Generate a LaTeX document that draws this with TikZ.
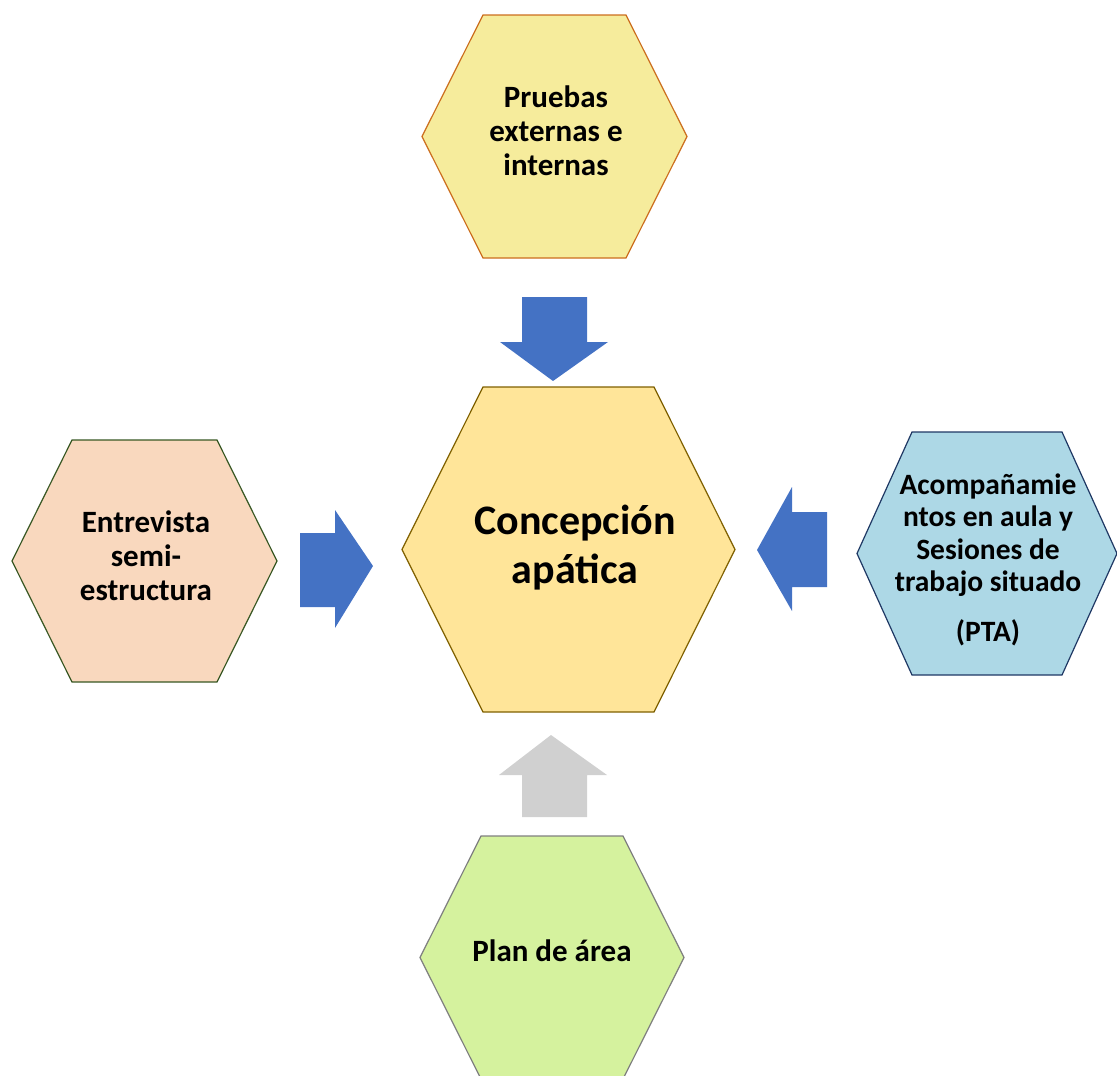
\documentclass[tikz,border=0pt]{standalone}
\usepackage{fontspec}
\setmainfont{Carlito}
\usetikzlibrary{positioning}
\definecolor{officeblue}{HTML}{4472C4}
\definecolor{arrowgray}{HTML}{D0D0D0}
\definecolor{pruebasfill}{HTML}{F6EC9C}
\definecolor{pruebasline}{HTML}{CC6E1E}
\definecolor{centrofill}{HTML}{FFE599}
\definecolor{centroline}{HTML}{7F6000}
\definecolor{entrevfill}{HTML}{F9D8BE}
\definecolor{entrevline}{HTML}{385723}
\definecolor{acompfill}{HTML}{ADD8E6}
\definecolor{acompline}{HTML}{1F3864}
\definecolor{planfill}{HTML}{D5F29E}
\definecolor{planline}{HTML}{7F7F7F}
\tikzset{
  hexlabel/.style={align=center, font=\bfseries\fontsize{31}{34}\selectfont},
  hexbig/.style={align=center, font=\bfseries\fontsize{42}{49}\selectfont},
  pruebas/.style={fill=pruebasfill, draw=pruebasline, line width=1.2pt},
  centro/.style={fill=centrofill, draw=centroline, line width=1.2pt},
  entrevista/.style={fill=entrevfill, draw=entrevline, line width=1.2pt},
  acomp/.style={fill=acompfill, draw=acompline, line width=1.2pt},
  plan/.style={fill=planfill, draw=planline, line width=1.2pt},
  blockarrow/.style={fill=officeblue},
  grayarrow/.style={fill=arrowgray}
}
% hexagon: name, x, y, half width, half height, inset, style
\newcommand{\hexcell}[7]{%
  \begin{scope}[shift={(#2,#3)}]
    \filldraw[#7] (-#4,0) -- ({-#4+#6},#5) -- ({#4-#6},#5) -- (#4,0)
      -- ({#4-#6},-#5) -- ({-#4+#6},-#5) -- cycle;
  \end{scope}
  \coordinate (#1) at (#2,#3);}

\begin{document}
\begin{tikzpicture}[x=1pt,y=-1pt]
  \useasboundingbox (0,0) rectangle (1117,1076);

  % the five hexagons
  \hexcell{top}{554.5}{136.5}{132.5}{121.5}{61}{pruebas}
  \hexcell{mid}{568.5}{549.5}{166.5}{162.5}{81}{centro}
  \hexcell{left}{144.5}{561}{132.5}{121}{60}{entrevista}
  \hexcell{right}{987}{553.5}{130}{121.5}{55}{acomp}
  \hexcell{bot}{552}{957.5}{132}{121.5}{61}{plan}

  \node[hexlabel] (toptext) at (556,131) {Pruebas\\externas e\\internas};
  \node[hexbig] (midtext) at (575,548) {Concepción\\apática};
  \node[hexlabel] (lefttext) at (146,556) {Entrevista\\semi-\\estructura};
  \node[hexlabel, font=\bfseries\fontsize{29.5}{32.5}\selectfont] (righttext) at (988,559.5)
    {Acompañamie\\ntos en aula y\\Sesiones de\\trabajo situado\\[17pt](PTA)};
  \node[hexlabel] (bottext) at (552,951) {Plan de área};

  % block arrows
  \fill[blockarrow] (522,297) -- (587,297) -- (587,342) -- (608,342)
    -- (553,381) -- (500,342) -- (522,342) -- cycle;
  \fill[blockarrow] (300,533) -- (335,533) -- (335,510) -- (373,566)
    -- (335,628) -- (335,607) -- (300,607) -- cycle;
  \fill[blockarrow] (827,512) -- (792,512) -- (792,487) -- (757,550)
    -- (792,611) -- (792,587) -- (827,587) -- cycle;
  \fill[grayarrow] (522,817) -- (587,817) -- (587,775) -- (607,775)
    -- (551,735) -- (499,775) -- (522,775) -- cycle;
\end{tikzpicture}
\end{document}
